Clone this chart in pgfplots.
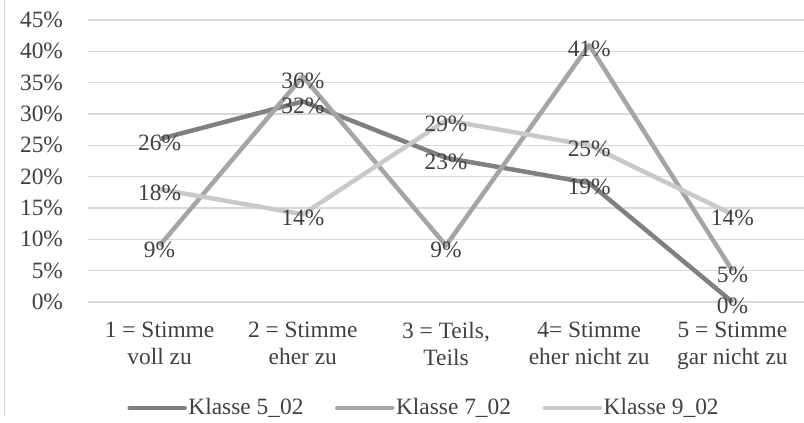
\documentclass[border=0pt]{standalone}
\usepackage{pgfplots}
\pgfplotsset{compat=1.18}
\usepackage{fontspec}
\setmainfont{Liberation Serif}

\definecolor{txt}{HTML}{404040}
\definecolor{gridc}{HTML}{D9D9D9}
\definecolor{kA}{HTML}{808080}
\definecolor{kB}{HTML}{A5A5A5}
\definecolor{kC}{HTML}{C9C9C9}

\newcommand{\chartfont}{\fontsize{23.5}{27}\selectfont}

\begin{document}
\begin{tikzpicture}[x=1bp,y=1bp]
\chartfont
\path[use as bounding box] (0,0) rectangle (804,422);
\draw[gray!35, line width=1bp] (4,422) -- (4,6);
\begin{axis}[
  at={(88bp,120bp)}, anchor=south west,
  scale only axis,
  width=716bp, height=282bp,
  xmin=-0.5, xmax=4.5,
  ymin=0, ymax=45,
  xtick={0,1,2,3,4},
  xticklabels={{1 = Stimme\\voll zu},{2 = Stimme\\eher zu},{3 = Teils,\\Teils},{4= Stimme\\eher nicht zu},{5 = Stimme\\gar nicht zu}},
  xticklabel style={align=center, text=txt, font=\chartfont, yshift=-12bp},
  ytick={0,5,...,45},
  yticklabel={\pgfmathprintnumber[assume math mode=true]{\tick}\%},
  yticklabel style={text=txt, font=\chartfont, xshift=-17bp},
  ymajorgrids,
  major grid style={gridc, line width=1.5bp},
  axis line style={draw=none},
  major tick length=0pt,
  clip=false,
  nodes near coords={\pgfmathprintnumber[assume math mode=true]{\pgfplotspointmeta}\%},
  every node near coord/.append style={anchor=center, yshift=-4bp, text=txt, font=\chartfont, inner sep=0pt},
  legend style={at={(0.469,-0.376)}, anchor=center, draw=none, fill=none,
    legend columns=3, font=\chartfont, text=txt,
    /tikz/every even column/.append style={column sep=30bp},
    inner sep=0pt, nodes={inner sep=1.5bp}},
  legend image code/.code={\draw[line width=4.5bp, line cap=round] (0bp,0bp) -- (55bp,0bp);},
]
\addplot[kA, line width=4.5bp, line join=round, mark=none] coordinates {(0,26) (1,32) (2,23) (3,19) (4,0)};
\addlegendentry{Klasse 5\_02}
\addplot[kB, line width=4.5bp, line join=round, mark=none] coordinates {(0,9) (1,36) (2,9) (3,41) (4,5)};
\addlegendentry{Klasse 7\_02}
\addplot[kC, line width=4.5bp, line join=round, mark=none] coordinates {(0,18) (1,14) (2,29) (3,25) (4,14)};
\addlegendentry{Klasse 9\_02}
\end{axis}
\end{tikzpicture}
\end{document}
